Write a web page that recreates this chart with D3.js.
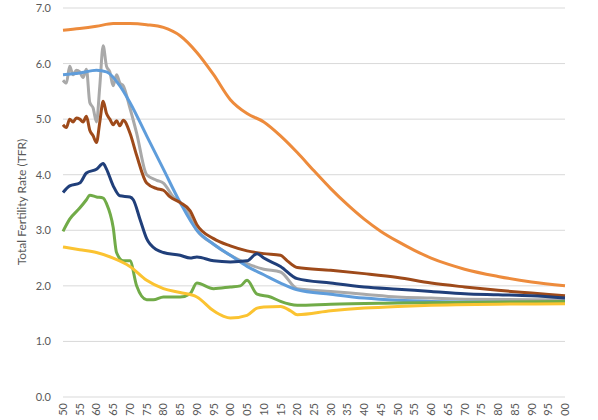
<!DOCTYPE html>
<html><head><meta charset="utf-8">
<script src="https://cdn.jsdelivr.net/npm/d3@7"></script>
<style>body{margin:0;background:#fff;font-family:Lato,"Open Sans",sans-serif}</style>
</head><body><svg id="c" width="598" height="420"></svg>
<script>
var orange = [[1950,6.6],[1955,6.63],[1960,6.67],[1965,6.72],[1970,6.72],[1975,6.7],[1980,6.65],[1985,6.5],[1990,6.2],[1995,5.8],[2000,5.35],[2005,5.1],[2010,4.95],[2015,4.7],[2020,4.4],[2025,4.07],[2030,3.75],[2035,3.46],[2040,3.2],[2045,2.98],[2050,2.8],[2055,2.64],[2060,2.5],[2065,2.39],[2070,2.3],[2080,2.17],[2090,2.07],[2100,2.0]],
    lightBlue = [[1950,5.8],[1955,5.83],[1960,5.88],[1963,5.85],[1967,5.6],[1970,5.3],[1975,4.7],[1980,4.1],[1985,3.5],[1990,3.0],[1995,2.75],[2000,2.55],[2005,2.35],[2010,2.2],[2015,2.05],[2020,1.93],[2030,1.85],[2040,1.78],[2050,1.74],[2060,1.72],[2070,1.71],[2100,1.7]],
    gray = [[1950,5.7],[1951,5.65],[1952,5.95],[1953,5.8],[1954,5.88],[1955,5.85],[1956,5.75],[1957,5.9],[1958,5.3],[1959,5.2],[1960,4.95],[1961,5.6],[1962,6.32],[1963,5.95],[1964,5.85],[1965,5.6],[1966,5.8],[1967,5.65],[1968,5.6],[1970,5.2],[1972,4.75],[1975,4.0],[1978,3.9],[1980,3.85],[1983,3.6],[1985,3.5],[1987,3.35],[1990,3.0],[1995,2.75],[2000,2.55],[2005,2.4],[2010,2.3],[2015,2.25],[2020,1.95],[2030,1.9],[2040,1.85],[2050,1.8],[2060,1.78],[2070,1.76],[2100,1.75]],
    brown = [[1950,4.9],[1951,4.85],[1952,5.0],[1953,4.95],[1954,5.02],[1955,5.0],[1956,4.95],[1957,5.05],[1958,4.8],[1959,4.7],[1960,4.58],[1961,4.95],[1962,5.32],[1963,5.1],[1964,5.0],[1965,4.9],[1966,4.97],[1967,4.88],[1968,4.98],[1970,4.75],[1972,4.35],[1975,3.85],[1978,3.75],[1980,3.72],[1982,3.6],[1985,3.5],[1988,3.35],[1990,3.1],[1995,2.85],[2000,2.72],[2005,2.63],[2010,2.58],[2015,2.55],[2017,2.45],[2020,2.33],[2030,2.28],[2040,2.22],[2050,2.15],[2060,2.05],[2070,1.98],[2080,1.92],[2090,1.87],[2100,1.82]],
    navy = [[1950,3.68],[1952,3.8],[1955,3.85],[1957,4.03],[1960,4.1],[1962,4.2],[1963,4.1],[1965,3.8],[1967,3.62],[1970,3.6],[1971,3.55],[1973,3.2],[1975,2.85],[1978,2.65],[1980,2.6],[1985,2.55],[1988,2.5],[1990,2.52],[1995,2.45],[2000,2.43],[2005,2.45],[2008,2.58],[2010,2.5],[2015,2.35],[2020,2.13],[2030,2.05],[2040,1.98],[2050,1.94],[2060,1.9],[2070,1.86],[2080,1.84],[2090,1.82],[2100,1.78]],
    green = [[1950,2.98],[1952,3.2],[1955,3.4],[1957,3.55],[1958,3.63],[1960,3.6],[1962,3.58],[1963,3.48],[1965,3.05],[1966,2.6],[1968,2.45],[1970,2.45],[1972,2.0],[1975,1.75],[1977,1.75],[1980,1.8],[1985,1.8],[1988,1.86],[1990,2.05],[1995,1.95],[2000,1.98],[2003,2.0],[2005,2.1],[2008,1.85],[2012,1.8],[2015,1.72],[2020,1.65],[2030,1.67],[2050,1.69],[2100,1.72]],
    yellow = [[1950,2.7],[1955,2.65],[1960,2.6],[1965,2.5],[1970,2.35],[1975,2.1],[1980,1.95],[1985,1.88],[1990,1.8],[1995,1.55],[1998,1.45],[2000,1.42],[2005,1.47],[2008,1.6],[2010,1.62],[2015,1.63],[2018,1.55],[2020,1.48],[2030,1.55],[2040,1.6],[2050,1.63],[2060,1.65],[2100,1.68]];

var series = [
  {data: orange, color: "#ed8b3c"},
  {data: gray, color: "#a9a9a9"},
  {data: lightBlue, color: "#5f9ddb"},
  {data: brown, color: "#9e4a1a"},
  {data: navy, color: "#203f7a"},
  {data: green, color: "#71ab48"},
  {data: yellow, color: "#fbc331"}
];
var xTicks = d3.range(1950, 2101, 5),
    yTicks = d3.range(0, 7.01, 1);

var svg = d3.select("#c"),
    x = d3.scaleLinear().domain([1950, 2100]).range([63, 565]),
    y = d3.scaleLinear().domain([0, 7]).range([397, 8]);

svg.append("g").selectAll("line").data(yTicks).join("line")
  .attr("x1", 63).attr("x2", 565)
  .attr("y1", function(d){ return y(d); }).attr("y2", function(d){ return y(d); })
  .attr("stroke", "#d9d9d9").attr("stroke-width", 1);

svg.append("g").selectAll("text").data(yTicks).join("text")
  .attr("x", 51).attr("y", function(d){ return y(d) + 4; })
  .attr("text-anchor", "end").attr("font-size", 11).attr("fill", "#595959")
  .text(function(d){ return d.toFixed(1); });

svg.append("g").selectAll("text").data(xTicks).join("text")
  .attr("transform", function(d){ return "translate(" + (x(d) + 4) + ",403) rotate(-90)"; })
  .attr("text-anchor", "end").attr("font-size", 11).attr("fill", "#595959")
  .text(function(d){ return String(d % 100).padStart(2, "0"); });

svg.append("text")
  .attr("transform", "translate(26,202) rotate(-90)")
  .attr("text-anchor", "middle").attr("font-size", 12).attr("fill", "#595959")
  .text("Total Fertility Rate (TFR)");

var line = d3.line()
  .x(function(d){ return x(d[0]); })
  .y(function(d){ return y(d[1]); })
  .curve(d3.curveMonotoneX);

svg.append("g").selectAll("path").data(series).join("path")
  .attr("d", function(s){ return line(s.data); })
  .attr("fill", "none").attr("stroke", function(s){ return s.color; })
  .attr("stroke-width", 3).attr("stroke-linejoin", "round");
</script></body></html>
